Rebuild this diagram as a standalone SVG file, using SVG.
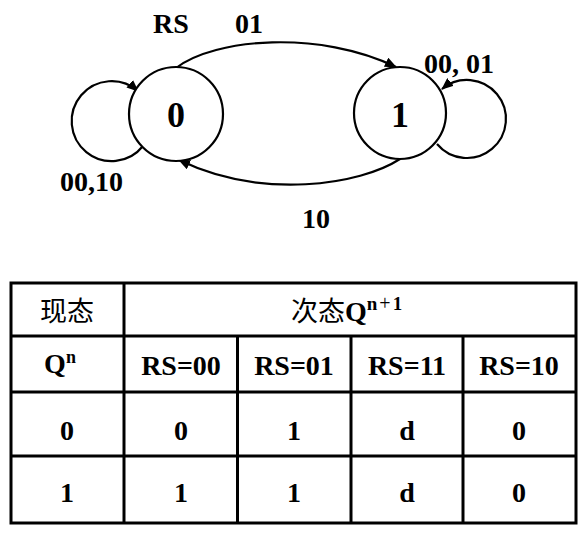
<svg xmlns="http://www.w3.org/2000/svg" width="583" height="538" viewBox="0 0 583 538">
<defs>
<style>
.node{fill:#fff;stroke:#000;stroke-width:2.2}
.edge{fill:none;stroke:#000;stroke-width:2.2}
.lbl{font-family:"Liberation Serif","Times New Roman",serif;font-weight:bold;font-size:28px;fill:#000}
.st{font-family:"Liberation Serif","Times New Roman",serif;font-weight:bold;font-size:36px;fill:#000;text-anchor:middle}
.tb{font-family:"Liberation Serif","Times New Roman",serif;font-weight:bold;font-size:28px;fill:#000;text-anchor:middle}
.cjk{font-family:"Liberation Serif","Noto Sans CJK SC",serif;font-size:27px;fill:#000}
.grid{stroke:#000;stroke-width:3;fill:none}
</style>
<marker id="arr" viewBox="0 0 12 10" refX="11" refY="5" markerWidth="12" markerHeight="10" markerUnits="userSpaceOnUse" orient="auto">
<path d="M0,0 L12,5 L0,10 z" fill="#000"/>
</marker>
</defs>
<g id="connectors">
<path class="edge" d="M176,68 C215,38 320,30 396,67" marker-end="url(#arr)"/>
<path class="edge" d="M400,159 C360,185 262,200 179,160" marker-end="url(#arr)"/>
<path class="edge" d="M143,146 A40,40 0 1 1 138,91" marker-end="url(#arr)"/>
<path class="edge" d="M437,144 A39,39 0 1 0 442,89" marker-end="url(#arr)"/>
</g>
<g id="state0">
<circle class="node" cx="176" cy="114" r="47"/>
<text class="st" x="176" y="127">0</text>
</g>
<g id="state1">
<circle class="node" cx="400" cy="113" r="46"/>
<text class="st" x="400" y="127">1</text>
</g>
<g id="labels">
<text class="lbl" x="153" y="33">RS</text>
<text class="lbl" x="235" y="33">01</text>
<text class="lbl" x="424" y="73">00, 01</text>
<text class="lbl" x="60" y="191">00,10</text>
<text class="lbl" x="302" y="228">10</text>
</g>
<g id="table">
<rect class="grid" x="11" y="283" width="565" height="240"/>
<line class="grid" x1="11" y1="336" x2="576" y2="336"/>
<line class="grid" x1="11" y1="392" x2="576" y2="392"/>
<line class="grid" x1="11" y1="456" x2="576" y2="456"/>
<line class="grid" x1="124" y1="283" x2="124" y2="523"/>
<line class="grid" x1="237.5" y1="336" x2="237.5" y2="523"/>
<line class="grid" x1="351" y1="336" x2="351" y2="523"/>
<line class="grid" x1="463" y1="336" x2="463" y2="523"/>
<text class="cjk" x="67" y="321" text-anchor="middle">现态</text>
<text class="cjk" x="291" y="321">次态<tspan font-weight="bold" font-size="28">Q</tspan><tspan font-family="Liberation Serif,serif" font-weight="bold" font-size="19" dy="-11">n</tspan><tspan font-family="Liberation Serif,serif" font-size="20" dx="2">+</tspan><tspan font-family="Liberation Serif,serif" font-weight="bold" font-size="19" dx="2">1</tspan></text>
<text class="tb" x="60" y="373">Q<tspan font-size="18" dy="-10">n</tspan></text>
<text class="tb" x="181" y="375">RS=00</text>
<text class="tb" x="294" y="375">RS=01</text>
<text class="tb" x="407" y="375">RS=11</text>
<text class="tb" x="519" y="375">RS=10</text>
<text class="tb" x="67" y="440">0</text>
<text class="tb" x="181" y="440">0</text>
<text class="tb" x="294" y="440">1</text>
<text class="tb" x="407" y="440">d</text>
<text class="tb" x="519" y="440">0</text>
<text class="tb" x="67" y="502">1</text>
<text class="tb" x="181" y="502">1</text>
<text class="tb" x="294" y="502">1</text>
<text class="tb" x="407" y="502">d</text>
<text class="tb" x="519" y="502">0</text>
</g>
</svg>
